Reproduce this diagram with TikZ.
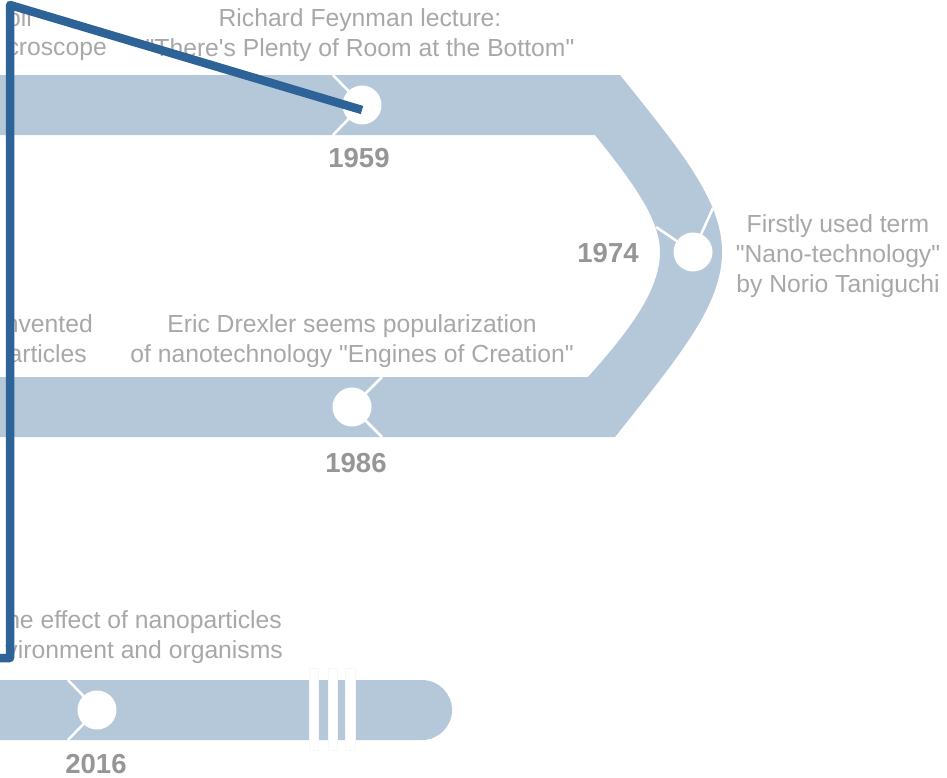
\documentclass[tikz,border=0pt]{standalone}
\usepackage{fontspec}
\setmainfont{Liberation Sans}
\newfontfamily\libsans{Liberation Sans}
\definecolor{band}{RGB}{181,200,218}
\definecolor{txt}{RGB}{168,168,168}
\definecolor{yr}{RGB}{150,150,150}
\definecolor{blueline}{RGB}{46,99,152}
\definecolor{stripeedge}{RGB}{246,248,250}
\begin{document}
\begin{tikzpicture}[x=1pt,y=-1pt,
  desc/.style={font=\libsans\fontsize{24.7}{30}\selectfont, text=txt, inner sep=0pt},
  year/.style={font=\libsans\fontsize{27.5}{30}\selectfont\bfseries, text=yr, inner sep=0pt, anchor=base},
  dot/.style={circle, fill=white, minimum size=39pt, inner sep=0pt},
  tick/.style={draw=white, line width=2.5pt},
  bandfill/.style={fill=band, draw=none},
  stripe/.style={fill=white, draw=stripeedge, line width=0.6pt},
  pointer/.style={draw=blueline, line width=8.5pt, line join=round}
  ]
\useasboundingbox (0,0) rectangle (947,777);
\clip (0,0) rectangle (947,777);
\fill[white] (0,0) rectangle (947,777);

% snake band (top, curve, middle)
\path[bandfill] (-5,75) -- (620,75)
  .. controls (680,150) and (722,200) .. (722,252)
  .. controls (722,305) and (680,355) .. (615,437)
  -- (-5,437) -- (-5,377) -- (588,377)
  .. controls (630,330) and (660,290) .. (660,252)
  .. controls (660,220) and (635,185) .. (595,135)
  -- (-5,135) -- cycle;

% bottom band
\path[bandfill] (-5,680) -- (422,680) arc (-90:90:30) -- (-5,740) -- cycle;
\path[stripe] (309,668) rectangle (318,750);
\path[stripe] (328,668) rectangle (337,750);
\path[stripe] (345,668) rectangle (355,750);

% event markers
\coordinate (c1959) at (362,105);
\coordinate (c1974) at (693,252);
\coordinate (c1986) at (352,407);
\coordinate (c2016) at (97,710);
\coordinate (k1959a) at (333,75);  \coordinate (k1959b) at (333,135);
\coordinate (k1974a) at (713,208); \coordinate (k1974b) at (656,227);
\coordinate (k1986a) at (382,377); \coordinate (k1986b) at (382,437);
\coordinate (k2016a) at (68,680);  \coordinate (k2016b) at (68,740);

\draw[tick] (k1959a) -- (c1959) -- (k1959b);
\draw[tick] (k1974a) -- (c1974) -- (k1974b);
\draw[tick] (k1986a) -- (c1986) -- (k1986b);
\draw[tick] (k2016a) -- (c2016) -- (k2016b);

\node[dot] (d1959) at (c1959) {};
\node[dot] (d1974) at (c1974) {};
\node[dot] (d1986) at (c1986) {};
\node[dot] (d2016) at (c2016) {};

% years
\node[year] (y1959) at (359,167) {1959};
\node[year] (y1974) at (608,262) {1974};
\node[year] (y1986) at (356,472) {1986};
\node[year] (y2016) at (96,773) {2016};

% descriptions
\node[desc, anchor=base east] (l1a) at (32,26) {oll};
\node[desc, anchor=base east] (l1b) at (107,55) {croscope};
\node[desc, anchor=base] (f1) at (360,26) {Richard Feynman lecture:};
\node[desc, anchor=base] (f2) at (360,56) {"There's Plenty of Room at the Bottom"};
\node[desc, anchor=base] (n1) at (838,232) {Firstly used term};
\node[desc, anchor=base] (n2) at (838,262) {"Nano-technology"};
\node[desc, anchor=base] (n3) at (838,292) {by Norio Taniguchi};
\node[desc, anchor=base east] (l2a) at (93,332) {nvented};
\node[desc, anchor=base east] (l2b) at (87,362) {articles};
\node[desc, anchor=base] (e1) at (352,332) {Eric Drexler seems popularization};
\node[desc, anchor=base] (e2) at (352,362) {of nanotechnology "Engines of Creation"};
\node[desc, anchor=base east] (l3a) at (282,628) {he effect of nanoparticles};
\node[desc, anchor=base east] (l3b) at (283,658) {vironment and organisms};

% blue pointer line
\coordinate (p0) at (362,110);
\coordinate (p1) at (10,5);
\coordinate (p2) at (10,658);
\coordinate (p3) at (-20,658);
\draw[pointer] (p0) -- (p1) -- (p2) -- (p3);
\end{tikzpicture}
\end{document}
